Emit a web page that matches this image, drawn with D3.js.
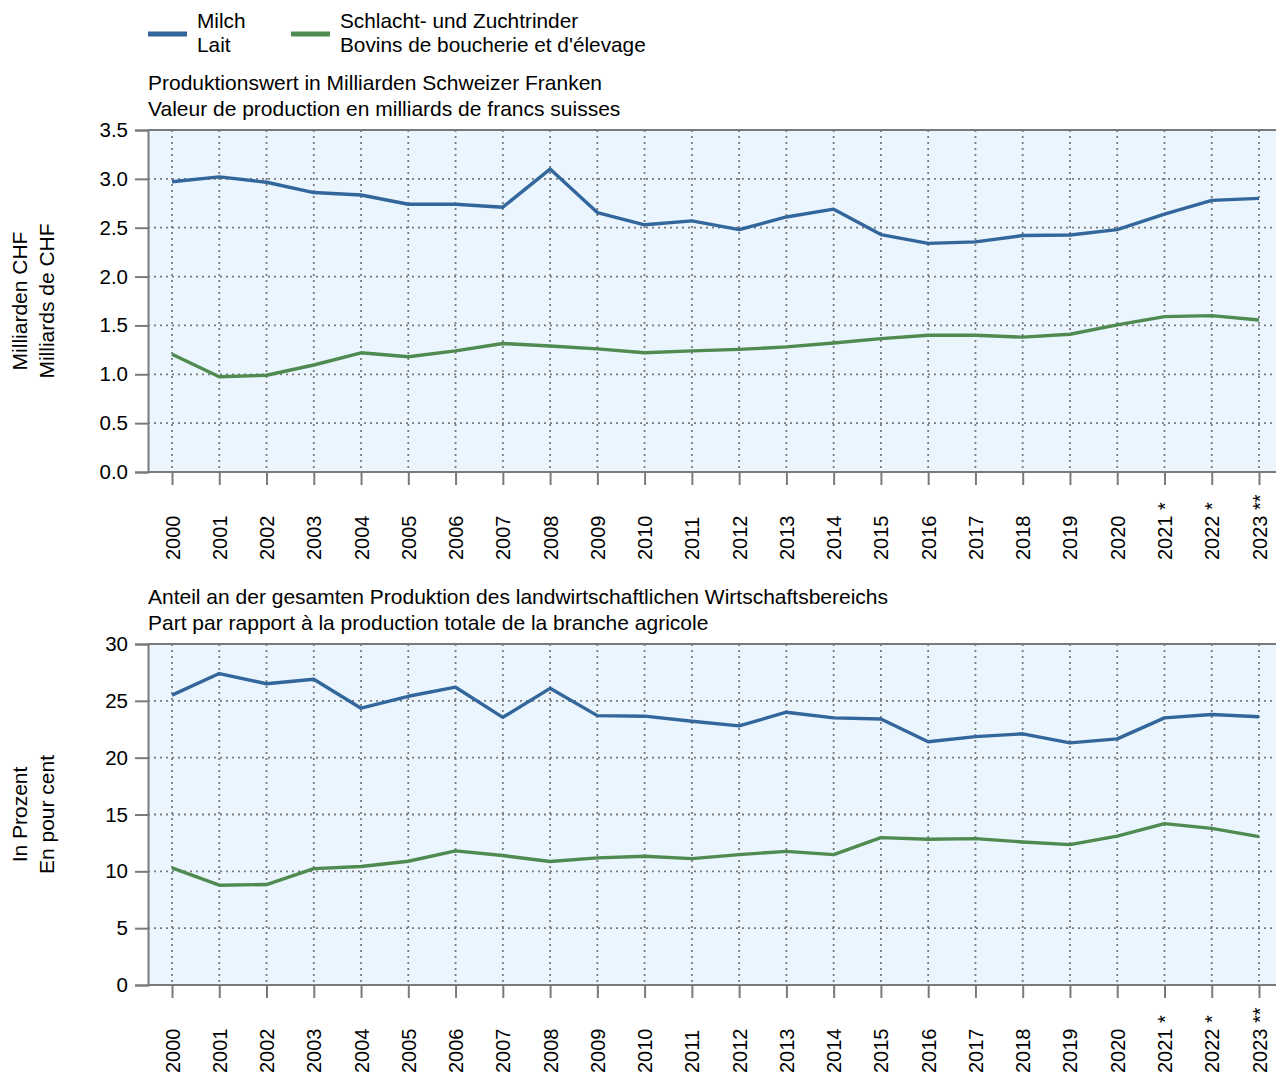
<!DOCTYPE html>
<html>
<head>
<meta charset="utf-8">
<script src="https://cdn.jsdelivr.net/npm/d3@7"></script>
<style>
  body { margin: 0; background: #fff; }
  svg text { font-family: "Liberation Sans", Arial, sans-serif; fill: #000; }
</style>
</head>
<body>
<svg id="chart" width="1276" height="1074"></svg>
<script>

// Jahre / années
const years = ["2000","2001","2002","2003","2004","2005","2006","2007","2008","2009","2010","2011",
    "2012","2013","2014","2015","2016","2017","2018","2019","2020","2021","2022","2023"];
const yearLabels = years.map(y => y === "2023" ? y + " **" : (y === "2021" || y === "2022") ? y + " *" : y);

// Produktionswert, Mrd. CHF
const milchWert = [2.97,3.02,2.965,2.86,2.835,2.74,2.74,2.71,3.10,2.655,2.53,2.57,
    2.48,2.61,2.69,2.43,2.34,2.355,2.42,2.425,2.48,2.64,2.78,2.80];
const rinderWert = [1.205,0.975,0.99,1.095,1.22,1.18,1.24,1.315,1.29,1.26,1.22,1.24,
    1.255,1.28,1.32,1.365,1.40,1.40,1.38,1.41,1.505,1.59,1.60,1.555];

// Anteil in Prozent
const milchAnteil = [25.5,27.4,26.5,26.9,24.35,25.4,26.2,23.55,26.1,23.7,23.65,23.2,
    22.8,24.0,23.5,23.4,21.4,21.85,22.1,21.3,21.65,23.5,23.8,23.6];
const rinderAnteil = [10.3,8.78,8.84,10.24,10.42,10.89,11.8,11.39,10.86,11.18,11.33,11.12,
    11.47,11.76,11.47,12.97,12.82,12.88,12.58,12.35,13.1,14.2,13.78,13.05];

const topTicks = [0,0.5,1,1.5,2,2.5,3,3.5];
const bottomTicks = [0,5,10,15,20,25,30];

const seriesNames = [
    ["Milch","Lait"],
    ["Schlacht- und Zuchtrinder","Bovins de boucherie et d'élevage"]
];

const blue = "#33679c";
const green = "#4f8b50";
const gridColor = "#7a7a7a";

const svg = d3.select("#chart");

// Legende
const legend = svg.append("g");
[[148, blue], [291, green]].forEach((d, i) => {
    legend.append("line")
        .attr("x1", d[0]).attr("x2", d[0] + 39)
        .attr("y1", 34).attr("y2", 34)
        .attr("stroke", d[1])
        .attr("stroke-width", 5);
    legend.append("text")
        .attr("x", d[0] + 49).attr("y", 28)
        .style("font-size", "20.8px")
        .text(seriesNames[i][0]);
    legend.append("text")
        .attr("x", d[0] + 49).attr("y", 52)
        .style("font-size", "20.8px")
        .text(seriesNames[i][1]);
});

const x = d3.scalePoint()
    .domain(years)
    .range([172, 1259]);

function drawPanel(opts){

    const g = svg.append("g");

    const y = d3.scaleLinear()
        .domain([0, opts.max])
        .range([opts.bottom, opts.top]);

    const left = 148, right = 1276;

    g.append("rect")
        .attr("x", left).attr("y", opts.top)
        .attr("width", right - left)
        .attr("height", opts.bottom - opts.top)
        .attr("fill", "#eaf5fe");

    // Titel
    opts.title.forEach((t, i) => {
        g.append("text")
            .attr("x", left)
            .attr("y", opts.top - 40 + i * 26)
            .style("font-size", "21px")
            .text(t);
    });

    // Gitter
    g.selectAll(".vgrid")
        .data(years)
        .enter()
        .append("line")
        .attr("x1", d => x(d)).attr("x2", d => x(d))
        .attr("y1", opts.top).attr("y2", opts.bottom)
        .attr("stroke", gridColor)
        .attr("stroke-width", 1.8)
        .attr("stroke-dasharray", "2,4");

    g.selectAll(".hgrid")
        .data(opts.ticks.slice(1, -1))
        .enter()
        .append("line")
        .attr("x1", left).attr("x2", right)
        .attr("y1", d => y(d)).attr("y2", d => y(d))
        .attr("stroke", gridColor)
        .attr("stroke-width", 1.8)
        .attr("stroke-dasharray", "2,4");

    // Rahmen oben
    g.append("line")
        .attr("x1", left).attr("x2", right)
        .attr("y1", opts.top).attr("y2", opts.top)
        .attr("stroke", gridColor)
        .attr("stroke-width", 2);

    // Y-Achse
    const yAxis = g.append("g")
        .attr("transform", `translate(${left},0)`)
        .call(d3.axisLeft(y)
            .tickValues(opts.ticks)
            .tickSize(13)
            .tickPadding(7)
            .tickFormat(opts.format));

    yAxis.select(".domain").attr("stroke", gridColor).attr("stroke-width", 2);
    yAxis.selectAll(".tick line").attr("stroke", gridColor).attr("stroke-width", 2);
    yAxis.selectAll(".tick text")
        .style("font-size", "20.5px")
        .style("font-family", "Liberation Sans, Arial, sans-serif")
        .attr("fill", "#000");

    // X-Achse
    const xAxis = g.append("g")
        .attr("transform", `translate(0,${opts.bottom})`)
        .call(d3.axisBottom(x)
            .tickSize(13)
            .tickFormat((d, i) => yearLabels[i]));

    xAxis.select(".domain").remove();
    xAxis.append("line")
        .attr("x1", left).attr("x2", right)
        .attr("stroke", gridColor)
        .attr("stroke-width", 2);
    xAxis.selectAll(".tick line").attr("stroke", gridColor).attr("stroke-width", 2);
    xAxis.selectAll(".tick text")
        .style("font-size", "20px")
        .style("font-family", "Liberation Sans, Arial, sans-serif")
        .attr("fill", "#000")
        .attr("text-anchor", "start")
        .attr("transform", "rotate(-90)")
        .attr("x", -88)
        .attr("y", 0)
        .attr("dy", "0.35em");

    // Y-Titel
    opts.ytitle.forEach((t, i) => {
        g.append("text")
            .attr("transform", `translate(${27 + i * 27},${(opts.top + opts.bottom) / 2}) rotate(-90)`)
            .attr("text-anchor", "middle")
            .style("font-size", "21px")
            .text(t);
    });

    // Linien
    const line = d3.line()
        .x((d, i) => x(years[i]))
        .y(d => y(d));

    [[opts.s1, blue], [opts.s2, green]].forEach(s => {
        g.append("path")
            .datum(s[0])
            .attr("d", line)
            .attr("fill", "none")
            .attr("stroke", s[1])
            .attr("stroke-width", 3.4)
            .attr("stroke-linejoin", "round");
    });
}

drawPanel({
    top: 130, bottom: 472, max: 3.5,
    ticks: topTicks,
    format: d3.format(".1f"),
    title: ["Produktionswert in Milliarden Schweizer Franken",
            "Valeur de production en milliards de francs suisses"],
    ytitle: ["Milliarden CHF", "Milliards de CHF"],
    s1: milchWert, s2: rinderWert
});

drawPanel({
    top: 644, bottom: 985, max: 30,
    ticks: bottomTicks,
    format: d3.format("d"),
    title: ["Anteil an der gesamten Produktion des landwirtschaftlichen Wirtschaftsbereichs",
            "Part par rapport à la production totale de la branche agricole"],
    ytitle: ["In Prozent", "En pour cent"],
    s1: milchAnteil, s2: rinderAnteil
});

</script>
</body>
</html>
